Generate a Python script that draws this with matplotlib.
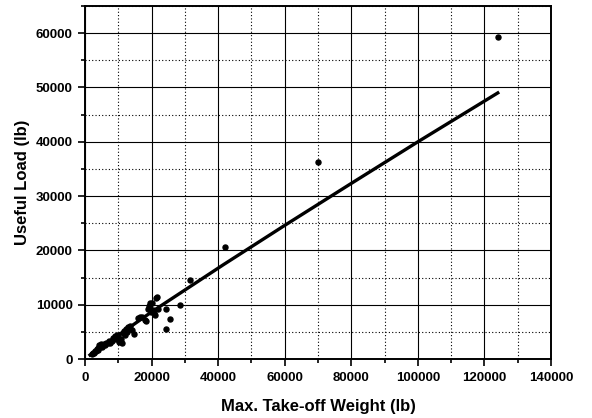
import matplotlib.pyplot as plt
from matplotlib.ticker import MultipleLocator

# aircraft data: max take-off weight vs useful load (lb)
mtow = [2200, 2500, 2800, 3000, 3300, 3500, 3800, 4000, 4200, 4500, 4700, 5000,
        5300, 5600, 6000, 6300, 6800, 7200, 7500, 8000, 8500, 9000, 9300, 9700,
        10000, 10300, 10800, 11000, 11300, 11600, 12000, 12300, 12700, 13000,
        13500, 14000, 14800, 16000, 16500, 17000, 18000, 18300, 19000, 19300,
        19500, 19800, 20000, 20300, 20700, 21000, 21300, 21600, 22000, 24300,
        24200, 25500, 28500, 31500, 42000, 70000, 124000]
useful = [900, 1100, 1200, 1500, 1400, 1800, 1600, 2000, 2500, 2200, 2700, 2300,
          2600, 2800, 2600, 2900, 3000, 3300, 2900, 3400, 3800, 4200, 3600, 4500,
          4100, 3200, 3600, 2900, 4800, 5200, 4400, 5600, 5000, 5900,
          6000, 5400, 4600, 7600, 7700, 7800, 7200, 7000, 9200, 9800,
          10300, 8600, 10400, 9000, 8500, 8100, 11300, 11500, 9300, 9200,
          5600, 7400, 9900, 14500, 20700, 36300, 59300]

# trend line
fit_x = [1500, 20000, 41500, 60000, 80000, 100000, 124000]
fit_y = [740, 8670, 17340, 24610, 32340, 40000, 49000]

fig = plt.figure(figsize=(5.92, 4.18), dpi=100)
ax = fig.add_axes([0.1436, 0.1411, 0.7872, 0.8445])

ax.plot(fit_x, fit_y, color='black', lw=2.4, zorder=3)
ax.plot(mtow, useful, 'o', color='black', ms=3.6, zorder=4)

ax.set_xlim(0, 140000)
ax.set_ylim(0, 65000)
ax.xaxis.set_major_locator(MultipleLocator(20000))
ax.xaxis.set_minor_locator(MultipleLocator(10000))
ax.yaxis.set_major_locator(MultipleLocator(10000))
ax.yaxis.set_minor_locator(MultipleLocator(5000))

ax.grid(which='major', color='black', lw=0.8, ls='-')
ax.grid(which='minor', color='black', lw=0.8, ls=(0, (1, 2)))

ax.tick_params(which='both', direction='out', top=False, right=False, width=1.2)
ax.tick_params(which='major', length=5, labelsize=9.5, pad=4)
ax.tick_params(which='minor', length=3)
for lab in ax.get_xticklabels() + ax.get_yticklabels():
    lab.set_fontweight('bold')
    lab.set_fontfamily('Liberation Sans')

for sp in ax.spines.values():
    sp.set_linewidth(1.4)

ax.set_xlabel('Max. Take-off Weight (lb)', fontsize=12, fontweight='bold',
              family='Liberation Sans', labelpad=11)
ax.set_ylabel('Useful Load (lb)', fontsize=12, fontweight='bold',
              family='Liberation Sans', labelpad=4)

fig.savefig('out.png', dpi=100)
